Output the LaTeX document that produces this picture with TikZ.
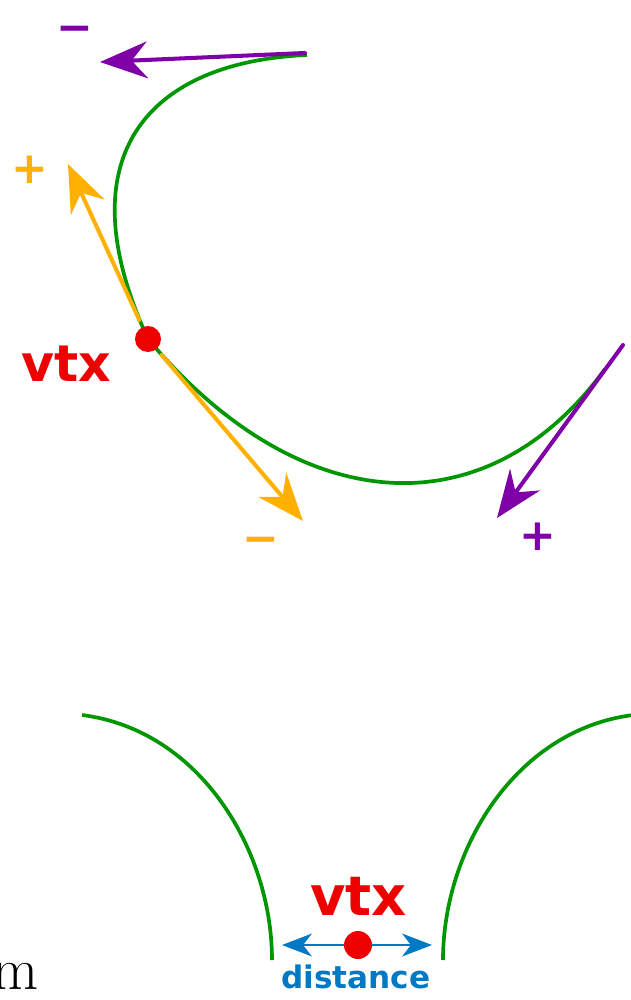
\documentclass[tikz,border=0pt]{standalone}
\usepackage{fontspec}
\newfontfamily\djv{DejaVu Sans}
\usetikzlibrary{arrows.meta}

\definecolor{edgegreen}{RGB}{0,150,0}
\definecolor{vtxred}{RGB}{238,0,0}
\definecolor{tanyellow}{RGB}{255,176,0}
\definecolor{tanpurple}{RGB}{128,0,168}
\definecolor{distblue}{RGB}{0,121,196}

\begin{document}
\begin{tikzpicture}[x=0.02cm,y=-0.02cm,line cap=round,line join=round,
  curve/.style={edgegreen,line width=2.1pt,line cap=butt},
  tangent/.style={line width=2.3pt,-{Stealth[length=27pt,width=21pt,inset=9pt]}},
  dot/.style={circle,fill=vtxred,inner sep=0pt,minimum size=#1},
  sign/.style={font=\djv\bfseries\fontsize{25}{30}\selectfont,anchor=base,inner sep=0pt},
  vlabel/.style={font=\djv\bfseries\fontsize{#1}{#1}\selectfont,text=vtxred,anchor=base,inner sep=0pt}]

\useasboundingbox (0,0) rectangle (631,1000);

% top: one edge with a vertex on it
\coordinate (v) at (148,339);
\coordinate (a0) at (307,55);
\coordinate (b1) at (605,369);
\draw[curve] (a0) .. controls (147,62) and (64,157) .. (v)
  .. controls (300,520) and (487,531) .. (b1);

\node[dot=0.52cm,outer sep=0.16cm] (vtx) at (v) {};
\node[vlabel=28.8] (vtxlab) at (66.5,381) {vtx};

% tangents at the vertex
\coordinate (yplus) at (68,164);
\coordinate (yminus) at (303,521);
\draw[tangent,tanyellow] (vtx) -- (yplus);
\draw[tangent,tanyellow] (vtx) -- (yminus);
\node[sign,text=tanyellow] (ypl) at (30,184) {+};
\node[sign,text=tanyellow] (ymi) at (261,553) {−};

% tangents at the ends
\coordinate (ps) at (305,53);
\coordinate (pminus) at (100,62);
\coordinate (pe) at (623,345);
\coordinate (pplus) at (497,518);
\draw[tangent,tanpurple] (ps) -- (pminus);
\draw[tangent,tanpurple] (pe) -- (pplus);
\node[sign,text=tanpurple] (pmi) at (75,43) {−};
\node[sign,text=tanpurple] (ppl) at (538,550) {+};

% bottom: two edges and a vertex between them
\draw[curve] (82,715) .. controls (200,730) and (272,850) .. (272,960);
\draw[curve] (633,715) .. controls (515,730) and (443,850) .. (443,960);

\coordinate (dl) at (282,945);
\coordinate (dr) at (432,945);
\draw[distblue,line width=1.3pt,{Stealth[length=17pt,width=13pt,inset=5pt]}-{Stealth[length=17pt,width=13pt,inset=5pt]}] (dl) -- (dr);
\node[dot=0.56cm] (vtx2) at (358,945) {};
\node[vlabel=31] (vtx2lab) at (358.5,915) {vtx};
\node[font=\djv\bfseries\fontsize{17.7}{18}\selectfont,text=distblue,anchor=base,inner sep=0pt] (dist) at (356,988) {distance};

\node[font=\fontsize{34}{40}\selectfont,anchor=base east,inner sep=0pt] (mtxt) at (39,989) {m};

\end{tikzpicture}
\end{document}
